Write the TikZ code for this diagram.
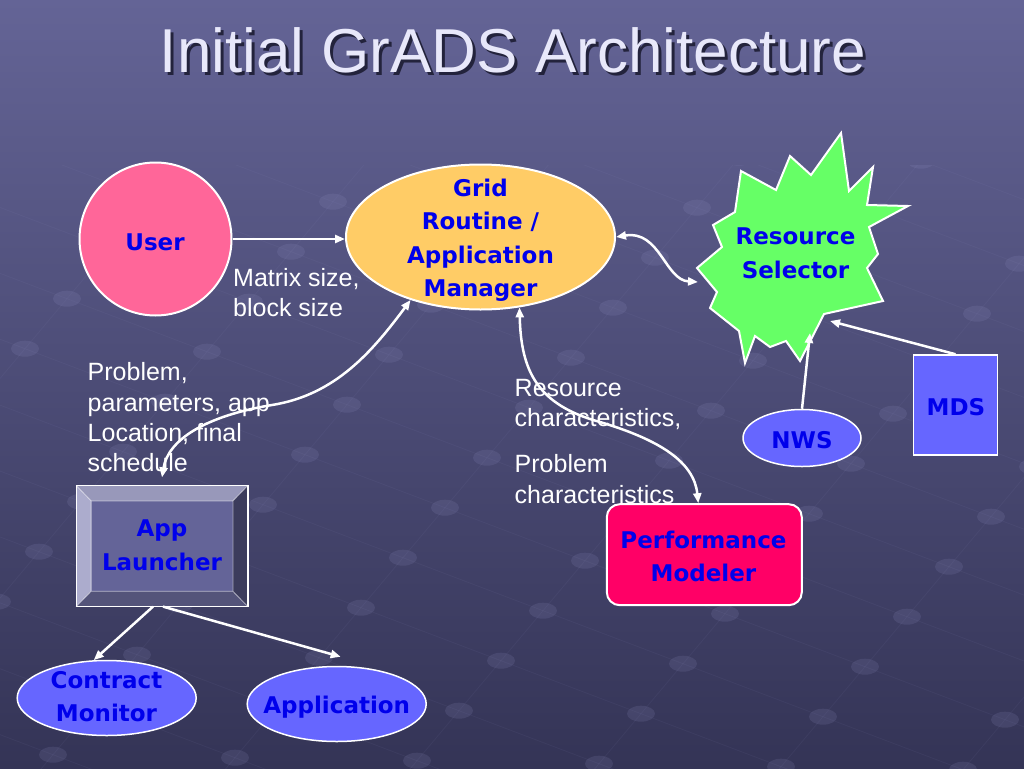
\documentclass[tikz,border=0pt]{standalone}
\usepackage{fontspec}
\setmainfont{Liberation Sans}
\newfontfamily\labfont{DejaVu Sans}
\usetikzlibrary{shapes.geometric,arrows.meta,calc}
\definecolor{bgtop}{RGB}{100,100,150}
\definecolor{bgbot}{RGB}{52,52,86}
\definecolor{labblue}{RGB}{0,0,235}
\definecolor{userpink}{RGB}{255,102,153}
\definecolor{gridorange}{RGB}{255,204,102}
\definecolor{rsgreen}{RGB}{102,255,102}
\definecolor{pmred}{RGB}{255,0,102}
\definecolor{nodeblue}{RGB}{102,102,255}
\definecolor{titlecol}{RGB}{232,232,250}
\definecolor{shadowcol}{RGB}{35,35,60}
\definecolor{alface}{RGB}{100,100,152}
\definecolor{altop}{RGB}{152,152,186}
\definecolor{alleft}{RGB}{172,172,205}
\definecolor{alright}{RGB}{60,60,92}
\definecolor{albottom}{RGB}{84,84,122}
\definecolor{dotcol}{RGB}{150,150,200}
\begin{document}
\begin{tikzpicture}[x=1pt,y=-1pt,
  shapebox/.style={draw=white, line width=2pt},
  lab/.style={font={\labfont\bfseries\fontsize{23}{33.5}\selectfont}, text=labblue, align=center, inner sep=0pt, anchor=base},
  txt/.style={font={\fontsize{25}{30.3}\selectfont}, text=white, align=left, inner sep=0pt, anchor=base west},
  conn/.style={draw=white, line width=2.5pt, -{Triangle[length=10pt,width=8pt]}},
  conntwo/.style={draw=white, line width=2.5pt, {Triangle[length=10pt,width=8pt]}-{Triangle[length=10pt,width=8pt]}},
  bgdot/.style={fill=dotcol, fill opacity=0.15},
  bgline/.style={draw=dotcol, draw opacity=0.07, line width=0.8pt}
]
\useasboundingbox (0,0) rectangle (1024,768);
\shade[top color=bgtop, bottom color=bgbot] (0,0) rectangle (1024,768);

% background texture: faint dots on a slanted grid
\begin{scope}
\clip (0,165) rectangle (1024,768);
\foreach \j in {-8,...,8} {
  \draw[bgline] (865-42*-12+140*\j, 666.7+50*-12+53*\j) -- (865-42*12+140*\j, 666.7+50*12+53*\j);
}
\foreach \i in {-12,...,12} {
  \draw[bgline] (865-42*\i+140*-8, 666.7+50*\i+53*-8) -- (865-42*\i+140*8, 666.7+50*\i+53*8);
  \foreach \j in {-8,...,8} {
    \fill[bgdot] (865-42*\i+140*\j, 666.7+50*\i+53*\j) ellipse [x radius=14, y radius=8];
  }
}
\end{scope}

% title
\node[font={\fontsize{62}{62}\selectfont}, text=shadowcol, anchor=base, inner sep=0pt] (titleshadow) at (516,75) {Initial GrADS Architecture};
\node[font={\fontsize{62}{62}\selectfont}, text=titlecol, anchor=base, inner sep=0pt] (title) at (513,72) {Initial GrADS Architecture};

% plain text labels (anchor = baseline of last line)
\node[txt] (matrixtxt) at (233,316.7) {Matrix size,\\block size};
\node[txt] (problemtxt) at (87.5,471.7) {Problem,\\parameters, app\\Location, final\\schedule};
\node[txt] (restxt) at (514.5,426.7) {Resource\\characteristics,};
\node[txt] (probchartxt) at (514.5,503) {Problem\\characteristics};

% shapes
\node[ellipse, shapebox, fill=userpink, minimum width=152pt, minimum height=153pt, inner sep=0pt] (user) at (155.5,239) {};
\node[ellipse, shapebox, fill=gridorange, minimum width=269pt, minimum height=145pt, inner sep=0pt] (grid) at (480.5,237) {};

\draw[shapebox, fill=rsgreen] (841,133) -- (849,191) -- (873,167) -- (867,205) -- (908,206) -- (869,227) -- (878,254) -- (867,268) -- (883,301) -- (824,314) -- (800,361) -- (786,341) -- (770,347) -- (755,336) -- (745,363) -- (739,331) -- (710,308) -- (717,292) -- (697,268) -- (722,247) -- (713,225) -- (735,212) -- (741,171) -- (776,190) -- (790,156) -- (811,175) -- cycle;
\coordinate (rsleft) at (698,282);
\coordinate (rsbottom) at (810,333);
\coordinate (rsright) at (830,321);

\node[rectangle, draw=white, line width=1.5pt, fill=nodeblue, minimum width=84pt, minimum height=100pt, inner sep=0pt] (mds) at (955.5,405) {};
\node[ellipse, draw=white, line width=1.5pt, fill=nodeblue, minimum width=118pt, minimum height=57pt, inner sep=0pt] (nws) at (802,438) {};
\node[rectangle, rounded corners=13pt, shapebox, fill=pmred, minimum width=195pt, minimum height=101pt, inner sep=0pt] (pm) at (704.3,554.7) {};
\node[ellipse, draw=white, line width=1.5pt, fill=nodeblue, minimum width=179pt, minimum height=75pt, inner sep=0pt] (cm) at (106.7,698) {};
\node[ellipse, draw=white, line width=1.5pt, fill=nodeblue, minimum width=179pt, minimum height=75pt, inner sep=0pt] (app) at (336.7,704) {};

% App Launcher bevel box
\node[rectangle, draw=white, line width=1.2pt, fill=alface, minimum width=170.6pt, minimum height=120pt, inner sep=0pt] (al) at (162,546) {};
\coordinate (ilt) at ($(al.north west)+(15,15.5)$);
\coordinate (irt) at ($(al.north east)+(-15,15.5)$);
\coordinate (irb) at ($(al.south east)+(-15,-15.3)$);
\coordinate (ilb) at ($(al.south west)+(15,-15.3)$);
\fill[altop] (al.north west) -- (al.north east) -- (irt) -- (ilt) -- cycle;
\fill[alleft] (al.north west) -- (ilt) -- (ilb) -- (al.south west) -- cycle;
\fill[alright] (al.north east) -- (al.south east) -- (irb) -- (irt) -- cycle;
\fill[albottom] (al.south west) -- (ilb) -- (irb) -- (al.south east) -- cycle;
\draw[white, opacity=0.55, line width=0.8pt] (ilt) -- (irt) -- (irb) -- (ilb) -- cycle
  (al.north west) -- (ilt) (al.north east) -- (irt) (al.south east) -- (irb) (al.south west) -- (ilb);
\draw[white, line width=1.2pt] (al.north west) rectangle (al.south east);

% node labels (anchor = baseline of last line)
\node[lab] (usertxt) at (155,250) {User};
\node[lab] (gridtxt) at (480.5,296.7) {Grid\\Routine /\\Application\\Manager};
\node[lab] (rstxt) at (795.5,278.3) {Resource\\Selector};
\node[lab] (mdstxt) at (956,415) {MDS};
\node[lab] (nwstxt) at (802,448) {NWS};
\node[lab] (pmtxt) at (703.5,581.7) {Performance\\Modeler};
\node[lab] (altxt) at (162,570) {App\\Launcher};
\node[lab] (cmtxt) at (106.5,721.7) {Contract\\Monitor};
\node[lab] (apptxt) at (336.7,713.3) {Application};

% connectors
\draw[conn] (user.east) -- (grid.west |- user.east);
\draw[conntwo] (grid.222) .. controls (372,352) and (335,395) .. (272,405)
   .. controls (205,416) and (168,440) .. ([yshift=8pt]al.north);
\draw[conntwo] (grid.299) .. controls (521,372) and (538,405) .. (600,422)
   .. controls (660,440) and (694,462) .. ([xshift=-6pt]pm.north);
\draw[conntwo] (grid.east) .. controls (660,230) and (665,280) .. (rsleft);
\draw[conn] (nws.north) -- (rsbottom);
\draw[conn] (mds.north) -- (rsright);
\draw[conn] ([xshift=-9pt]al.south) -- (cm.109);
\draw[conn] ([xshift=1pt]al.south) -- ([xshift=4pt,yshift=9pt]app.north);
\end{tikzpicture}
\end{document}
